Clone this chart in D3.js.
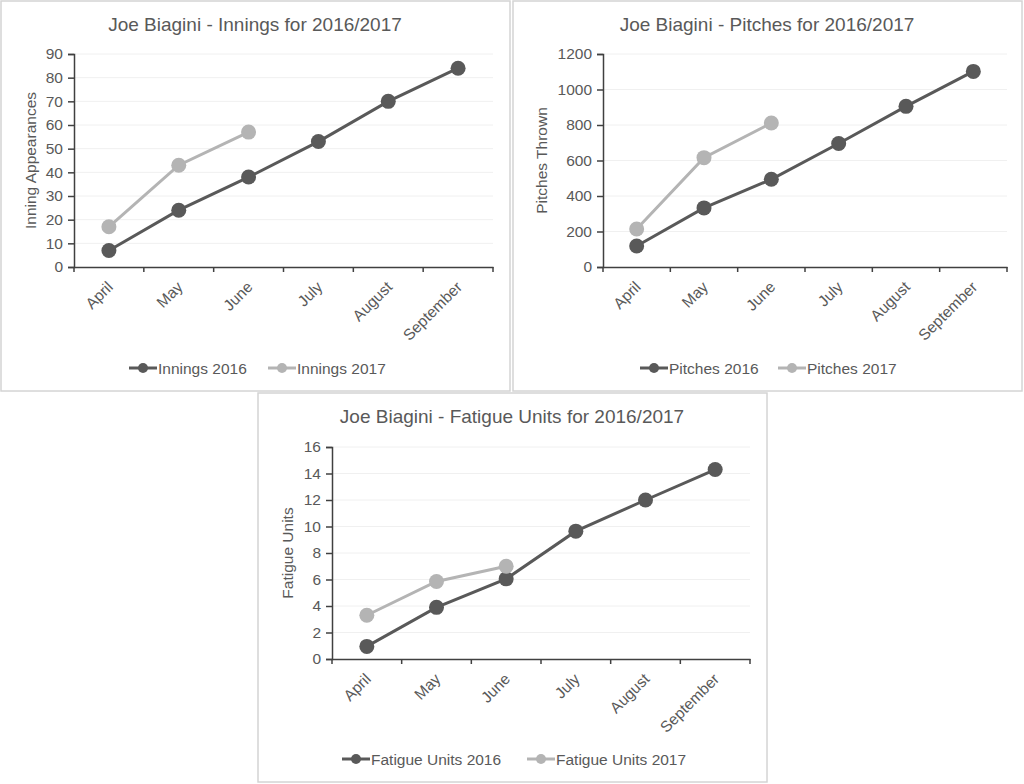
<!DOCTYPE html>
<html>
<head>
<meta charset="utf-8">
<script src="https://cdn.jsdelivr.net/npm/d3@7"></script>
<style>
  body { margin: 0; background: #fff; }
  text { font-family: "Liberation Sans", Arial, sans-serif; fill: #595959; }
</style>
</head>
<body>
<svg width="1024" height="784"></svg>
<script>
var months = ["April", "May", "June", "July", "August", "September"];

var innings2016 = [7, 24, 38, 53, 70, 84];
var innings2017 = [17, 43, 57];
var inningsTicks = [0, 10, 20, 30, 40, 50, 60, 70, 80, 90];

var pitches2016 = [118, 333, 494, 696, 905, 1102];
var pitches2017 = [214, 616, 811];
var pitchesTicks = [0, 200, 400, 600, 800, 1000, 1200];

var fatigue2016 = [0.95, 3.9, 6.05, 9.65, 12, 14.3];
var fatigue2017 = [3.3, 5.85, 7.0];
var fatigueTicks = [0, 2, 4, 6, 8, 10, 12, 14, 16];

var dark = "#595959", light = "#b4b4b4";

var svg = d3.select("svg");

function drawPanel(p) {
    var g = svg.append("g");

    // frame
    g.append("rect")
        .attr("x", p.box[0]).attr("y", p.box[1])
        .attr("width", p.box[2]).attr("height", p.box[3])
        .attr("fill", "#fff").attr("stroke", "#d4d4d4").attr("stroke-width", 1.5);

    var x = d3.scaleBand().domain(months).range([p.left, p.right]);
    var y = d3.scaleLinear().domain([0, d3.max(p.ticks)]).range([p.bottom, p.top]);

    // gridlines
    g.selectAll(".grid")
        .data(p.ticks.slice(1))
        .enter().append("line")
        .attr("x1", p.left).attr("x2", p.right)
        .attr("y1", function(d){ return y(d); })
        .attr("y2", function(d){ return y(d); })
        .attr("stroke", "#f0f0f0").attr("stroke-width", 1);

    // y axis
    var yAxis = g.append("g")
        .attr("transform", "translate(" + p.left + ",0)")
        .call(d3.axisLeft(y).tickValues(p.ticks).tickFormat(d3.format("d")).tickSize(6).tickPadding(5));
    yAxis.selectAll("path, line").attr("stroke", "#404040").attr("stroke-width", 1.5);
    yAxis.selectAll("text").attr("font-size", "15.5px").attr("fill", "#595959")
        .style("font-family", "Liberation Sans, Arial, sans-serif");

    // x axis
    var xAxis = g.append("g")
        .attr("transform", "translate(0," + p.bottom + ")")
        .call(d3.axisBottom(x).tickSize(0).tickSizeOuter(0).tickFormat(""));
    xAxis.select("path").attr("stroke", "#404040").attr("stroke-width", 1.5);
    xAxis.selectAll(".tick").remove();
    var bounds = months.map(function(m){ return x(m); }).concat([p.right]);
    g.selectAll(".xtick")
        .data(bounds)
        .enter().append("line")
        .attr("x1", function(d){ return d; }).attr("x2", function(d){ return d; })
        .attr("y1", p.bottom).attr("y2", p.bottom + 5)
        .attr("stroke", "#404040").attr("stroke-width", 1.5);

    g.selectAll(".xlab")
        .data(months)
        .enter().append("text")
        .attr("text-anchor", "end")
        .attr("font-size", "15.5px")
        .attr("transform", function(d){
            return "translate(" + (x(d) + x.bandwidth() / 2 + 5) + "," + (p.bottom + 21) + ") rotate(-45)";
        })
        .text(function(d){ return d; });

    // y title
    g.append("text")
        .attr("transform", "translate(" + p.ytx + "," + ((p.top + p.bottom) / 2) + ") rotate(-90)")
        .attr("text-anchor", "middle")
        .attr("font-size", "15.5px")
        .text(p.ytitle);

    // title
    g.append("text")
        .attr("x", p.tx).attr("y", p.ty)
        .attr("text-anchor", "middle")
        .attr("font-size", "19px")
        .text(p.title);

    var line = d3.line()
        .x(function(d, i){ return x(months[i]) + x.bandwidth() / 2; })
        .y(function(d){ return y(d); });

    [[p.s2016, dark], [p.s2017, light]].forEach(function(s){
        g.append("path")
            .datum(s[0])
            .attr("d", line)
            .attr("fill", "none")
            .attr("stroke", s[1])
            .attr("stroke-width", 3);
        g.selectAll(null)
            .data(s[0])
            .enter().append("circle")
            .attr("cx", function(d, i){ return x(months[i]) + x.bandwidth() / 2; })
            .attr("cy", function(d){ return y(d); })
            .attr("r", 7.5)
            .attr("fill", s[1]);
    });

    // legend
    p.legend.forEach(function(l, i){
        var lg = g.append("g").attr("transform", "translate(" + l.x + "," + p.ly + ")");
        var c = i === 0 ? dark : light;
        lg.append("line").attr("x1", 0).attr("x2", 28).attr("y1", 0).attr("y2", 0)
            .attr("stroke", c).attr("stroke-width", 3);
        lg.append("circle").attr("cx", 14).attr("cy", 0).attr("r", 5).attr("fill", c);
        lg.append("text").attr("x", 29).attr("y", 5.5).attr("font-size", "15.5px").text(l.name);
    });
}

drawPanel({
    box: [1, 1, 509, 390],
    left: 74, right: 493, top: 54, bottom: 267,
    ticks: inningsTicks, s2016: innings2016, s2017: innings2017,
    title: "Joe Biagini - Innings for 2016/2017", tx: 255, ty: 31,
    ytitle: "Inning Appearances", ytx: 36,
    ly: 368,
    legend: [{x: 129, name: "Innings 2016"}, {x: 268, name: "Innings 2017"}]
});

drawPanel({
    box: [513, 1, 509, 390],
    left: 603, right: 1007, top: 54, bottom: 267,
    ticks: pitchesTicks, s2016: pitches2016, s2017: pitches2017,
    title: "Joe Biagini - Pitches for 2016/2017", tx: 767, ty: 31,
    ytitle: "Pitches Thrown", ytx: 547,
    ly: 368,
    legend: [{x: 640, name: "Pitches 2016"}, {x: 778, name: "Pitches 2017"}]
});

drawPanel({
    box: [258, 393, 509, 389],
    left: 332, right: 750, top: 447, bottom: 659,
    ticks: fatigueTicks, s2016: fatigue2016, s2017: fatigue2017,
    title: "Joe Biagini - Fatigue Units for 2016/2017", tx: 512, ty: 423,
    ytitle: "Fatigue Units", ytx: 293,
    ly: 759,
    legend: [{x: 342, name: "Fatigue Units 2016"}, {x: 527, name: "Fatigue Units 2017"}]
});
</script>
</body>
</html>
